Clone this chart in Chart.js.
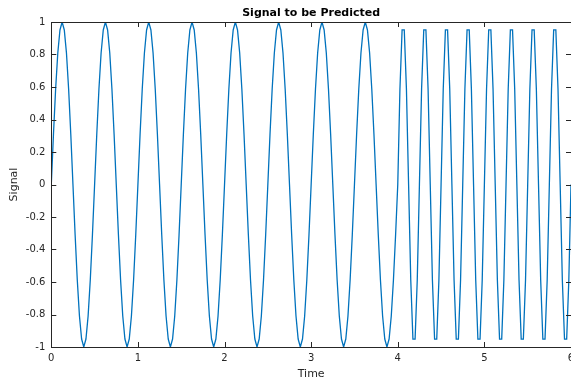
<!DOCTYPE html>
<html>
<head>
<meta charset="utf-8">
<script src="https://cdn.jsdelivr.net/npm/chart.js@4.4.1/dist/chart.umd.min.js"></script>
<style>
  html, body { margin: 0; padding: 0; background: #fff; }
  canvas { display: block; }
</style>
</head>
<body>
<canvas id="myChart" width="571" height="382"></canvas>
<script>
// first part: slower wave, t = 0 .. 4
const time1 = [
  0, 0.025, 0.05, 0.075, 0.1, 0.125, 0.15, 0.175, 0.2, 0.225, 0.25, 0.275, 0.3, 0.325, 0.35, 0.375, 0.4, 0.425, 0.45, 0.475,
  0.5, 0.525, 0.55, 0.575, 0.6, 0.625, 0.65, 0.675, 0.7, 0.725, 0.75, 0.775, 0.8, 0.825, 0.85, 0.875, 0.9, 0.925, 0.95, 0.975,
  1, 1.025, 1.05, 1.075, 1.1, 1.125, 1.15, 1.175, 1.2, 1.225, 1.25, 1.275, 1.3, 1.325, 1.35, 1.375, 1.4, 1.425, 1.45, 1.475,
  1.5, 1.525, 1.55, 1.575, 1.6, 1.625, 1.65, 1.675, 1.7, 1.725, 1.75, 1.775, 1.8, 1.825, 1.85, 1.875, 1.9, 1.925, 1.95, 1.975,
  2, 2.025, 2.05, 2.075, 2.1, 2.125, 2.15, 2.175, 2.2, 2.225, 2.25, 2.275, 2.3, 2.325, 2.35, 2.375, 2.4, 2.425, 2.45, 2.475,
  2.5, 2.525, 2.55, 2.575, 2.6, 2.625, 2.65, 2.675, 2.7, 2.725, 2.75, 2.775, 2.8, 2.825, 2.85, 2.875, 2.9, 2.925, 2.95, 2.975,
  3, 3.025, 3.05, 3.075, 3.1, 3.125, 3.15, 3.175, 3.2, 3.225, 3.25, 3.275, 3.3, 3.325, 3.35, 3.375, 3.4, 3.425, 3.45, 3.475,
  3.5, 3.525, 3.55, 3.575, 3.6, 3.625, 3.65, 3.675, 3.7, 3.725, 3.75, 3.775, 3.8, 3.825, 3.85, 3.875, 3.9, 3.925, 3.95, 3.975,
  4
];
const signal1 = [
  0, 0.309, 0.588, 0.809, 0.951, 1, 0.951, 0.809, 0.588, 0.309, 0, -0.309, -0.588, -0.809, -0.951, -1, -0.951, -0.809, -0.588, -0.309,
  0, 0.309, 0.588, 0.809, 0.951, 1, 0.951, 0.809, 0.588, 0.309, 0, -0.309, -0.588, -0.809, -0.951, -1, -0.951, -0.809, -0.588, -0.309,
  0, 0.309, 0.588, 0.809, 0.951, 1, 0.951, 0.809, 0.588, 0.309, 0, -0.309, -0.588, -0.809, -0.951, -1, -0.951, -0.809, -0.588, -0.309,
  0, 0.309, 0.588, 0.809, 0.951, 1, 0.951, 0.809, 0.588, 0.309, 0, -0.309, -0.588, -0.809, -0.951, -1, -0.951, -0.809, -0.588, -0.309,
  0, 0.309, 0.588, 0.809, 0.951, 1, 0.951, 0.809, 0.588, 0.309, 0, -0.309, -0.588, -0.809, -0.951, -1, -0.951, -0.809, -0.588, -0.309,
  0, 0.309, 0.588, 0.809, 0.951, 1, 0.951, 0.809, 0.588, 0.309, 0, -0.309, -0.588, -0.809, -0.951, -1, -0.951, -0.809, -0.588, -0.309,
  0, 0.309, 0.588, 0.809, 0.951, 1, 0.951, 0.809, 0.588, 0.309, 0, -0.309, -0.588, -0.809, -0.951, -1, -0.951, -0.809, -0.588, -0.309,
  0, 0.309, 0.588, 0.809, 0.951, 1, 0.951, 0.809, 0.588, 0.309, 0, -0.309, -0.588, -0.809, -0.951, -1, -0.951, -0.809, -0.588, -0.309,
  0
];

// second part: faster wave, t = 4.025 .. 6
const time2 = [
  4.025, 4.05, 4.075, 4.1, 4.125, 4.15, 4.175, 4.2, 4.225, 4.25,
  4.275, 4.3, 4.325, 4.35, 4.375, 4.4, 4.425, 4.45, 4.475, 4.5,
  4.525, 4.55, 4.575, 4.6, 4.625, 4.65, 4.675, 4.7, 4.725, 4.75,
  4.775, 4.8, 4.825, 4.85, 4.875, 4.9, 4.925, 4.95, 4.975, 5,
  5.025, 5.05, 5.075, 5.1, 5.125, 5.15, 5.175, 5.2, 5.225, 5.25,
  5.275, 5.3, 5.325, 5.35, 5.375, 5.4, 5.425, 5.45, 5.475, 5.5,
  5.525, 5.55, 5.575, 5.6, 5.625, 5.65, 5.675, 5.7, 5.725, 5.75,
  5.775, 5.8, 5.825, 5.85, 5.875, 5.9, 5.925, 5.95, 5.975, 6
];
const signal2 = [
  0.588, 0.951, 0.951, 0.588, 0, -0.588, -0.951, -0.951, -0.588, 0,
  0.588, 0.951, 0.951, 0.588, 0, -0.588, -0.951, -0.951, -0.588, 0,
  0.588, 0.951, 0.951, 0.588, 0, -0.588, -0.951, -0.951, -0.588, 0,
  0.588, 0.951, 0.951, 0.588, 0, -0.588, -0.951, -0.951, -0.588, 0,
  0.588, 0.951, 0.951, 0.588, 0, -0.588, -0.951, -0.951, -0.588, 0,
  0.588, 0.951, 0.951, 0.588, 0, -0.588, -0.951, -0.951, -0.588, 0,
  0.588, 0.951, 0.951, 0.588, 0, -0.588, -0.951, -0.951, -0.588, 0,
  0.588, 0.951, 0.951, 0.588, 0, -0.588, -0.951, -0.951, -0.588, 0
];

const xTicks = [0, 1, 2, 3, 4, 5, 6];
const yTicks = [-1, -0.8, -0.6, -0.4, -0.2, 0, 0.2, 0.4, 0.6, 0.8, 1];

const axisColor = "#262626";
const allTime = time1.concat(time2);
const allSignal = signal1.concat(signal2);
const points = allTime.map((t, i) => ({ x: t, y: allSignal[i] }));

// matlab style box with inward tick marks
const boxPlugin = {
  id: "box",
  afterDatasetsDraw(chart) {
    const { ctx, chartArea: a, scales } = chart;
    ctx.save();
    ctx.strokeStyle = axisColor;
    ctx.lineWidth = 1;
    ctx.strokeRect(Math.round(a.left) + 0.5, Math.round(a.top) + 0.5,
      Math.round(a.right - a.left), Math.round(a.bottom - a.top));
    ctx.beginPath();
    xTicks.forEach(v => {
      const px = Math.round(scales.x.getPixelForValue(v)) + 0.5;
      ctx.moveTo(px, a.bottom); ctx.lineTo(px, a.bottom - 5);
      ctx.moveTo(px, a.top); ctx.lineTo(px, a.top + 5);
    });
    yTicks.forEach(v => {
      const py = Math.round(scales.y.getPixelForValue(v)) + 0.5;
      ctx.moveTo(a.left, py); ctx.lineTo(a.left + 5, py);
      ctx.moveTo(a.right, py); ctx.lineTo(a.right - 5, py);
    });
    ctx.stroke();
    ctx.restore();
  }
};

const ctx = document.getElementById("myChart").getContext("2d");
const chart = new Chart(ctx, {
  type: "scatter",
  data: {
    datasets: [
      {
        label: "Signal",
        data: points,
        showLine: true,
        borderColor: "rgb(0, 114, 189)",
        borderWidth: 1.3,
        pointRadius: 0,
        tension: 0,
        fill: false,
      },
    ],
  },
  options: {
    responsive: false,
    animation: false,
    layout: { padding: { top: 0, right: -3.5, bottom: 0, left: 0 } },
    plugins: {
      legend: { display: false },
      tooltip: { enabled: false },
      title: {
        display: true,
        fullSize: false,
        text: "Signal to be Predicted",
        color: "#000",
        font: { family: "DejaVu Sans", size: 11, weight: "bold" },
        padding: { top: 6.5, bottom: 2.3 },
      },
    },
    scales: {
      x: {
        type: "linear",
        min: 0,
        max: 6,
        afterFit: (s) => { s.height = 35; s.paddingLeft = 0; s.paddingRight = 0; },
        afterBuildTicks: (s) => { s.ticks = xTicks.map(v => ({ value: v })); },
        ticks: {
          color: axisColor,
          font: { family: "DejaVu Sans", size: 10 },
          padding: 5,
          maxRotation: 0,
        },
        grid: { display: false, drawTicks: false },
        border: { display: false },
        title: {
          display: true,
          text: "Time",
          color: axisColor,
          font: { family: "DejaVu Sans", size: 11 },
          padding: { top: 0, bottom: 1 },
        },
      },
      y: {
        min: -1,
        max: 1,
        afterFit: (s) => { s.width = 51.3; },
        afterBuildTicks: (s) => { s.ticks = yTicks.map(v => ({ value: v })); },
        ticks: {
          color: axisColor,
          font: { family: "DejaVu Sans", size: 10 },
          padding: 6,
          callback: (v) => String(Math.round(v * 10) / 10),
        },
        grid: { display: false, drawTicks: false },
        border: { display: false },
        title: {
          display: true,
          text: "Signal",
          color: axisColor,
          font: { family: "DejaVu Sans", size: 11 },
          padding: { top: 8, bottom: 0 },
        },
      },
    },
  },
  plugins: [boxPlugin],
});
</script>
</body>
</html>
